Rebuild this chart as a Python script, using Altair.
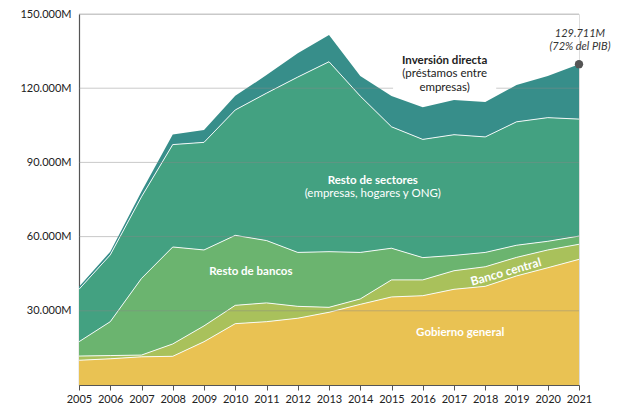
import altair as alt
import pandas as pd

years = list(range(2005, 2022))
series = ["Gobierno general", "Banco central", "Resto de bancos", "Resto de sectores", "Inversión directa"]
colors = ["#E9C253", "#A9C15B", "#6BB46F", "#43A181", "#378E8A"]

gobierno_general = [10000, 10600, 11400, 11600, 17500, 24800, 25600, 27000, 29400, 32600, 35600, 36100, 38700, 39900, 44100, 47400, 50800]
banco_central = [1700, 1300, 700, 5000, 6400, 7400, 7600, 4800, 2000, 2200, 6900, 6400, 7500, 7900, 7500, 7200, 6100]
resto_bancos = [5800, 13700, 31000, 39200, 30700, 28300, 25200, 21800, 22500, 18800, 12800, 9000, 6200, 5800, 4900, 3500, 3300]
resto_sectores = [21200, 27000, 33000, 41400, 43500, 50700, 59600, 70900, 76800, 63200, 49100, 47800, 48800, 46700, 49900, 50000, 47300]
inversion_directa = [1000, 1300, 2100, 4100, 5000, 5700, 7300, 9600, 10800, 8100, 12400, 13000, 14000, 14100, 14900, 16800, 22211]

y_ticks = [30000, 60000, 90000, 120000, 150000]
FONT = "Lato"

rows = []
vals = [gobierno_general, banco_central, resto_bancos, resto_sectores, inversion_directa]
for i, yr in enumerate(years):
    base = 0
    for k, s in enumerate(series):
        top = base + vals[k][i]
        rows.append({"year": yr, "serie": s, "order": k, "y0": base, "y1": top})
        base = top
df = pd.DataFrame(rows)

xscale = alt.Scale(domain=[2005, 2021], nice=False, zero=False)
yscale = alt.Scale(domain=[0, 150000], nice=False)
xaxis = alt.Axis(values=years, format="d", title=None, grid=False,
                 labelFont=FONT, labelFontSize=11, labelColor="#222",
                 domainColor="#555", tickColor="#555", tickSize=5,
                 labelPadding=3, domainWidth=1.2, labelFlush=False,
                 labelOverlap=False, labelBound=False)
yaxis = alt.Axis(values=y_ticks, title=None, grid=False, ticks=False,
                 labelFont=FONT, labelFontSize=11, labelColor="#222",
                 domainColor="#555", domainWidth=1.2, labelPadding=8,
                 labelOverlap=False,
                 labelExpr="replace(format(datum.value, ',.0f'), ',', '.') + 'M'")


def X(f):
    return alt.X(f, scale=xscale, axis=xaxis)


def Y(f):
    return alt.Y(f, scale=yscale, axis=yaxis)


areas = alt.Chart(df).mark_area(interpolate="linear", opacity=1).encode(
    x=X("year:Q"),
    y=Y("y1:Q"),
    y2="y0:Q",
    color=alt.Color("serie:N", scale=alt.Scale(domain=series, range=colors), legend=None),
    order=alt.Order("order:Q"),
)

lines = alt.Chart(df[df["order"] < 4]).mark_line(color="white", strokeWidth=1, opacity=0.9).encode(
    x=X("year:Q"),
    y=Y("y1:Q"),
    detail="serie:N",
)

grid_df = pd.DataFrame({"v": y_ticks, "x0": [2005] * len(y_ticks), "x1": [2021] * len(y_ticks)})
grid = alt.Chart(grid_df).mark_rule(color="#888", strokeWidth=1, opacity=0.45).encode(
    x=X("x0:Q"), x2="x1:Q", y=Y("v:Q")
)

box_df = pd.DataFrame({"xa": [2015.05], "xb": [2018.35], "ya": [117800], "yb": [124500]})
box = alt.Chart(box_df).mark_rect(color="white").encode(
    x=X("xa:Q"), x2="xb:Q", y=Y("ya:Q"), y2="yb:Q"
)

lab = pd.DataFrame([
    {"x": 2016.7, "y": 131000, "t": "Inversión directa", "w": "bold", "c": "#222"},
    {"x": 2016.7, "y": 125700, "t": "(préstamos entre", "w": "normal", "c": "#222"},
    {"x": 2016.7, "y": 120100, "t": "empresas)", "w": "normal", "c": "#222"},
    {"x": 2014.4, "y": 82500, "t": "Resto de sectores", "w": "bold", "c": "white"},
    {"x": 2014.4, "y": 77200, "t": "(empresas, hogares y ONG)", "w": "normal", "c": "white"},
    {"x": 2010.5, "y": 45800, "t": "Resto de bancos", "w": "bold", "c": "white"},
    {"x": 2017.2, "y": 21100, "t": "Gobierno general", "w": "bold", "c": "white"},
])


def text_layer(weight):
    return alt.Chart(lab[lab["w"] == weight]).mark_text(
        font=FONT, fontSize=11.5, fontWeight=weight, align="center", baseline="middle"
    ).encode(
        x=X("x:Q"), y=Y("y:Q"), text="t:N",
        color=alt.Color("c:N", scale=None),
    )


texts_b = text_layer("bold")
texts_n = text_layer("normal")

bc_df = pd.DataFrame({"x": [2018.66], "y": [45700], "t": ["Banco central"]})
bc = alt.Chart(bc_df).mark_text(font=FONT, fontSize=12, fontWeight="bold",
                                color="white", angle=344, align="center", baseline="middle").encode(
    x=X("x:Q"), y=Y("y:Q"), text="t:N"
)

tot_df = pd.DataFrame({"x": [2021], "y": [129711]})
dot = alt.Chart(tot_df).mark_point(filled=True, color="#555", size=70, opacity=1).encode(
    x=X("x:Q"), y=Y("y:Q")
)
ann_df = pd.DataFrame({"x": [2021.03, 2021.03], "y": [141800, 136500], "t": ["129.711M", "(72% del PIB)"]})
ann = alt.Chart(ann_df).mark_text(font=FONT, fontSize=11, fontStyle="italic", color="#333",
                                  align="center", baseline="middle").encode(
    x=X("x:Q"), y=Y("y:Q"), text="t:N"
)

chart = alt.layer(areas, lines, grid, box, texts_b, texts_n, bc, dot, ann).properties(
    width=500, height=371,
    autosize=alt.AutoSizeParams(type="none"),
    padding={"left": 71, "top": 6, "right": 38, "bottom": 20},
).configure_view(stroke=None).configure(background="white")

chart.save("out.html", embed_options={"renderer": "svg", "actions": False})
